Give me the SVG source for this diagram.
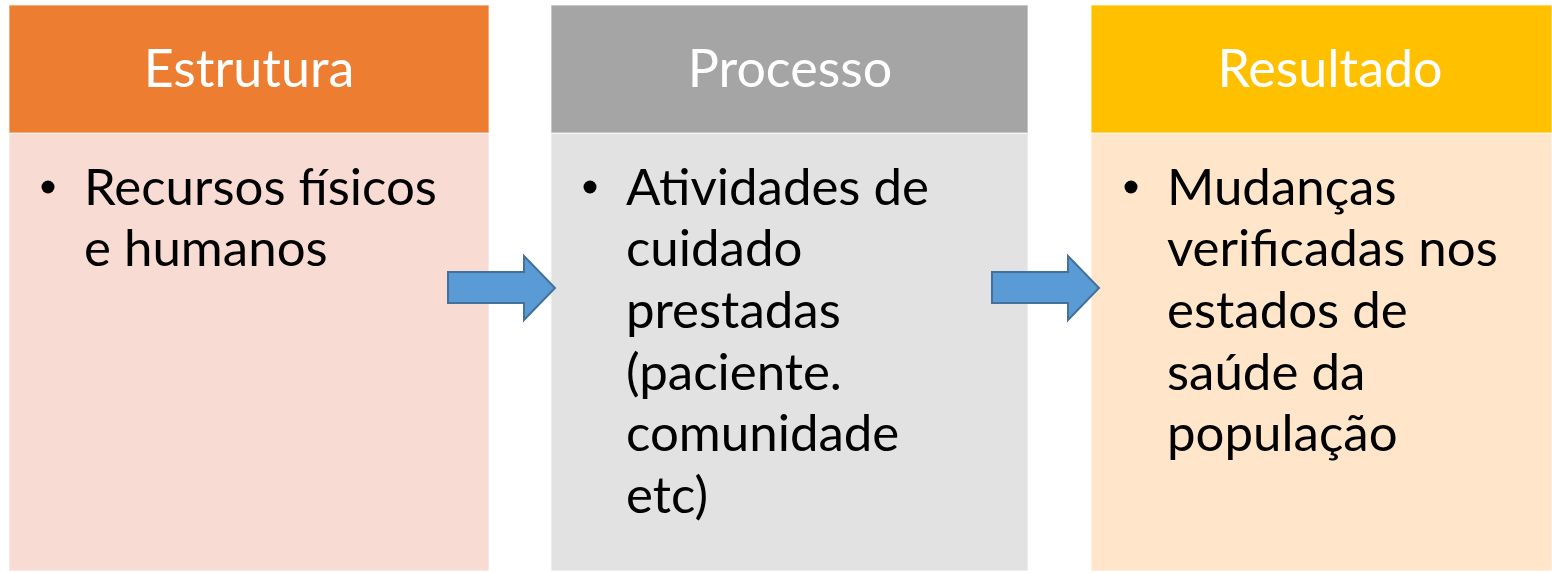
<svg xmlns="http://www.w3.org/2000/svg" width="1552" height="573" viewBox="0 0 1552 573">
<style>
.hd{font-family:Lato,"Open Sans","Liberation Sans",sans-serif;font-size:52px;fill:#fff;text-anchor:middle}
.bt{font-family:Lato,"Open Sans","Liberation Sans",sans-serif;font-size:51px;fill:#000}
.box{stroke:#fff;stroke-opacity:0.5;stroke-width:1.5}
.arr{fill:#5B9BD5;stroke:#41719C;stroke-width:2;stroke-linejoin:miter}
</style>
<rect width="1552" height="573" fill="#fff"/>
<g id="estrutura">
<rect class="box" x="9" y="133" width="480" height="438" fill="#F8DBD3"/>
<rect class="box" x="9" y="5" width="480" height="128" fill="#ED7D31"/>
<text class="hd" x="249" y="87">Estrutura</text>
<circle cx="48" cy="187" r="6.5"/>
<text class="bt" x="84" y="205">Recursos físicos</text>
<text class="bt" x="84" y="266">e humanos</text>
</g>
<g id="processo">
<rect class="box" x="551" y="133" width="477" height="438" fill="#E2E2E2"/>
<rect class="box" x="551" y="5" width="477" height="128" fill="#A5A5A5"/>
<text class="hd" x="790" y="87">Processo</text>
<circle cx="590" cy="187" r="6.5"/>
<text class="bt" x="626" y="205">Atividades de</text>
<text class="bt" x="626" y="266">cuidado</text>
<text class="bt" x="626" y="328">prestadas</text>
<text class="bt" x="626" y="390">(paciente.</text>
<text class="bt" x="626" y="451">comunidade</text>
<text class="bt" x="626" y="513">etc)</text>
</g>
<g id="resultado">
<rect class="box" x="1091" y="133" width="461" height="438" fill="#FFE6CA"/>
<rect class="box" x="1091" y="5" width="461" height="128" fill="#FFC000"/>
<text class="hd" x="1330" y="87">Resultado</text>
<circle cx="1131" cy="187" r="6.5"/>
<text class="bt" x="1167" y="205">Mudanças</text>
<text class="bt" x="1167" y="266">verificadas nos</text>
<text class="bt" x="1167" y="328">estados de</text>
<text class="bt" x="1167" y="390">saúde da</text>
<text class="bt" x="1167" y="451">população</text>
</g>
<g id="connectors">
<path class="arr" d="M448,272 H524 V256 L555,288 L524,320 V303 H448 Z"/>
<path class="arr" d="M992,272 H1068 V256 L1099,288 L1068,320 V303 H992 Z"/>
</g>
</svg>
